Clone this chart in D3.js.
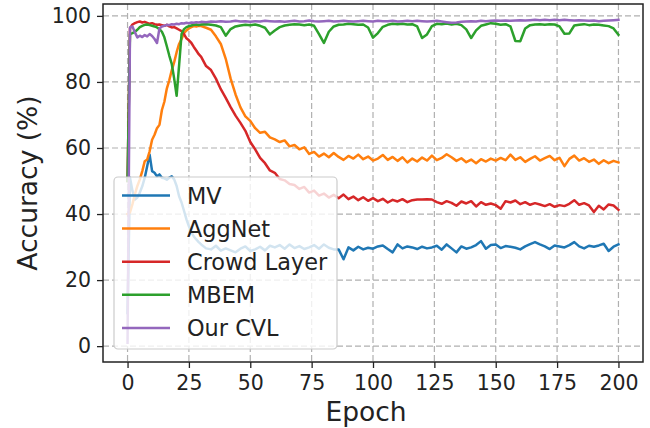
<!DOCTYPE html>
<html>
<head>
<meta charset="utf-8">
<script src="https://cdn.jsdelivr.net/npm/d3@7"></script>
<style>
  body { margin: 0; background: #fff; }
  svg { display: block; font-family: "DejaVu Sans", sans-serif; }
</style>
</head>
<body>
<svg width="650" height="428"></svg>
<script>
// epochs: every epoch up to 30, then every second epoch
const epochs = d3.range(0, 31).concat(d3.range(32, 201, 2))

const seriesNames = ["MV", "AggNet", "Crowd Layer", "MBEM", "Our CVL"]
const seriesColors = ["#1f77b4", "#ff7f0e", "#d62728", "#2ca02c", "#9467bd"]

const xTicks = [0, 25, 50, 75, 100, 125, 150, 175, 200]
const yTicks = [0, 20, 40, 60, 80, 100]

const mv = [
    10, 51, 47, 44.4, 45, 46.5, 48.4, 51, 54.5, 58, 53, 52.5, 51.4, 52, 51, 50.8, 50.4, 51, 51.4, 50.5,
    48.5, 45.4, 43.5, 41, 38.4, 36.3, 34.5, 33.2, 32.3, 31.5, 30.8,
    29.6, 29.3, 30.4, 28.9, 29.6, 29.0, 28.4, 29.5, 30.2, 28.8, 29.3, 30.1, 29.0, 30.4, 29.9, 30.6, 29.5, 30.8, 29.7, 30.3,
    29.4, 29.9, 30.6, 29.5, 30.8, 29.8, 29.3, 29.3, 26.3, 29.9, 29.0, 30.1, 29.3, 29.8, 29.5, 30.2, 30.5, 29.4, 28.4, 30.8,
    29.6, 30.2, 29.9, 29.4, 30.1, 29.6, 29.9, 30.4, 29.2, 30.8, 29.6, 28.4, 30.2, 29.5, 29.9, 30.6, 31.8, 29.5, 30.6, 30.8,
    29.7, 30.3, 30.1, 29.8, 29.3, 30.2, 30.9, 31.5, 30.8, 30.2, 29.4, 30.5, 30.2, 29.9, 30.6, 31.5, 30.2, 29.6, 30.4, 30.1,
    30.5, 31.0, 28.8, 30.1, 30.8
]

const aggnet = [
    40, 40.5, 43, 46, 48.5, 50.5, 53, 56, 56.5, 59, 62.5, 64, 66, 67, 71.5, 74, 78, 80.5, 83.5, 86,
    89, 91.5, 93, 94.8, 95.6, 96.2, 96.6, 96.9, 96.8, 97.0, 96.9,
    96.4, 95.8, 93.8, 91.5, 87, 81, 76.2, 72.3, 69.6, 68.2, 66.0, 64.6, 64.9, 63.2, 62.6, 61.8, 62.3, 60.5, 60.9, 59.6,
    60.2, 58.2, 58.8, 57.4, 58.3, 57.2, 58.5, 57.3, 56.4, 57.6, 56.8, 58.0, 56.6, 57.4, 56.2, 56.8, 57.9, 56.4, 57.3, 56.1,
    57.2, 55.6, 56.8, 55.9, 57.1, 56.2, 57.7, 56.3, 57.0, 58.1, 57.2, 56.1, 56.9, 55.7, 56.5, 55.4, 56.6, 55.9, 56.8, 56.2,
    57.0, 56.3, 58.0, 56.4, 57.2, 55.8, 56.7, 57.5, 56.2, 56.9, 57.6, 56.3, 57.0, 54.5, 56.7, 57.7, 56.2, 56.9, 55.8, 56.5,
    55.2, 56.3, 55.4, 56.1, 55.6
]

const crowdLayer = [
    50, 96.2, 97.4, 97.8, 98.1, 98.3, 98.0, 98.2, 97.9, 97.6, 97.8, 97.5, 97.3, 97.4, 97.2, 97.0, 97.3, 96.8, 96.5, 96.6,
    96.2, 95.8, 95.4, 94.5, 93.2, 92.6, 91.8, 90.6, 89.5, 88.4, 87.6,
    84.8, 83.6, 81.0, 77.8, 75.2, 72.4, 69.8, 67.6, 65.2, 61.8, 59.6, 57.0, 55.4, 53.2, 52.5, 50.6, 50.2, 49.1, 48.8, 47.6,
    48.2, 46.5, 47.1, 45.6, 46.2, 45.0, 45.8, 44.8, 45.9, 44.5, 45.3, 44.2, 45.1, 44.0, 44.8, 43.9, 44.6, 43.5, 44.3, 43.8,
    44.5, 43.6, 44.2, 44.4, 44.4, 44.5, 44.4, 43.6, 43.1, 43.9, 43.4, 42.5, 43.8, 43.2, 43.9, 42.3, 43.6, 42.8, 43.2, 42.7,
    41.6, 43.9, 43.5, 44.1, 43.0, 43.6, 42.8, 43.3, 42.9, 42.4, 43.0, 42.2, 42.7, 42.4, 43.1, 44.2, 42.8, 43.3, 42.6, 40.6,
    42.5, 41.4, 42.9, 42.6, 41.3
]

const mbem = [
    50, 94.5, 94.8, 95.2, 95.8, 96.6, 97.0, 97.3, 97.4, 97.2, 97.0, 96.8, 96.5, 96.0, 95.2, 93.5, 90.8, 88.0, 85.5, 81.0,
    75.8, 85.0, 94.5, 96.0, 96.6, 96.9, 97.1, 97.3, 97.4, 97.2, 97.4,
    97.5, 97.3, 97.1, 96.6, 94.0, 96.0, 96.8, 97.1, 97.3, 97.2, 97.4, 97.0, 96.4, 94.4, 95.6, 96.6, 97.1, 97.3, 97.5, 97.4,
    97.2, 97.4, 97.0, 94.5, 91.8, 95.2, 96.8, 97.3, 97.4, 97.6, 97.5, 97.3, 97.4, 96.5, 93.4, 94.8, 96.7, 97.3, 97.6, 97.5,
    97.6, 97.4, 97.5, 96.8, 93.3, 94.4, 96.9, 97.6, 97.5, 97.7, 97.4, 97.6, 97.2, 95.9, 93.3, 95.6, 97.0, 97.4, 97.8, 97.6,
    97.3, 97.5, 96.8, 92.4, 92.3, 96.2, 97.2, 97.4, 97.5, 97.3, 97.5, 97.4, 96.8, 94.6, 94.7, 97.1, 97.3, 97.5, 97.2, 97.4,
    97.3, 97.1, 96.9, 96.2, 94.3
]

const ourCvl = [
    1, 96.5, 96.8, 95, 93.5, 94, 93.6, 94.2, 93.8, 94.5, 93.9, 93, 91.8, 96.2, 96.8, 97, 97.3, 97.2, 97.5, 97.4,
    97.6, 97.5, 97.8, 97.7, 97.9, 97.8, 98, 97.9, 98.1, 98, 98.2,
    98.1, 98.3, 98.2, 98.4, 98.2, 98.3, 98.5, 98.3, 98.4, 98.2, 98.4, 98.3, 98.5, 98.4, 98.3, 98.4, 98.2, 98.4, 98.5, 98.3,
    98.4, 98.6, 98.4, 98.3, 98.4, 98.5, 98.3, 98.4, 98.5, 98.4, 98.3, 98.4, 98.5, 98.4, 98.3, 98.5, 98.4, 98.4, 98.5, 98.3,
    98.4, 98.5, 98.4, 98.5, 98.4, 98.3, 98.4, 98.5, 98.3, 98.1, 97.9, 98.0, 98.2, 98.3, 98.4, 98.3, 98.5, 98.4, 98.5, 98.6,
    98.5, 98.6, 98.5, 98.6, 98.7, 98.6, 98.7, 98.8, 98.7, 98.8, 98.7, 98.8, 98.7, 98.8, 98.7, 98.6, 98.7, 98.6, 98.5, 98.6,
    98.4, 98.5, 98.6, 98.7, 98.8
]

const seriesValues = [mv, aggnet, crowdLayer, mbem, ourCvl]

function draw_chart() {
    const svg = d3.select("svg")

    // axes box (pixels)
    const left = 103, right = 643, top = 4, bottom = 362

    const x = d3.scaleLinear().domain([-10, 210]).range([left, right])
    const y = d3.scaleLinear().domain([-4.8, 103.6]).range([bottom, top])

    // Grid
    const grid = svg.append("g")
    grid.selectAll(".gx")
        .data(xTicks)
        .enter()
        .append("line")
        .attr("x1", d => x(d)).attr("x2", d => x(d))
        .attr("y1", top).attr("y2", bottom)
    grid.selectAll(".gy")
        .data(yTicks)
        .enter()
        .append("line")
        .attr("x1", left).attr("x2", right)
        .attr("y1", d => y(d)).attr("y2", d => y(d))
    grid.selectAll("line")
        .attr("stroke", "#b0b0b0")
        .attr("stroke-width", 1.2)
        .attr("stroke-dasharray", "6,3")

    // Lines
    const line = d3.line()
        .x((d, i) => x(epochs[i]))
        .y(d => y(d))

    svg.append("g")
        .selectAll("path")
        .data(seriesValues)
        .enter()
        .append("path")
        .attr("d", d => line(d))
        .attr("fill", "none")
        .attr("stroke", (d, i) => seriesColors[i])
        .attr("stroke-width", 2.5)
        .attr("stroke-linejoin", "round")
        .attr("stroke-linecap", "square")

    // Axes
    const xAxis = svg.append("g")
        .attr("transform", `translate(0,${bottom})`)
        .call(d3.axisBottom(x).tickValues(xTicks).tickSize(6).tickPadding(7).tickSizeOuter(0))
    const yAxis = svg.append("g")
        .attr("transform", `translate(${left},0)`)
        .call(d3.axisLeft(y).tickValues(yTicks).tickSize(6).tickPadding(6).tickSizeOuter(0))

    for (const ax of [xAxis, yAxis]) {
        ax.select(".domain").remove()
        ax.selectAll(".tick line").attr("stroke", "#222").attr("stroke-width", 1.3)
        ax.selectAll(".tick text")
            .attr("fill", "#222")
            .style("font-family", "DejaVu Sans")
            .style("font-size", "20.5px")
    }

    // Spines
    svg.append("rect")
        .attr("x", left).attr("y", top)
        .attr("width", right - left).attr("height", bottom - top)
        .attr("fill", "none")
        .attr("stroke", "#222")
        .attr("stroke-width", 1.5)

    // Axis labels
    svg.append("text")
        .attr("x", 366).attr("y", 421)
        .attr("text-anchor", "middle")
        .attr("fill", "#222")
        .style("font-size", "26.5px")
        .text("Epoch")

    svg.append("text")
        .attr("transform", "translate(37,183) rotate(-90)")
        .attr("text-anchor", "middle")
        .attr("fill", "#222")
        .style("font-size", "26.5px")
        .text("Accuracy (%)")

    // Legend
    const legend = svg.append("g")
    legend.append("rect")
        .attr("x", 114).attr("y", 177)
        .attr("width", 223).attr("height", 172)
        .attr("rx", 4)
        .attr("fill", "white")
        .attr("fill-opacity", 0.8)
        .attr("stroke", "#cccccc")
        .attr("stroke-width", 1.2)

    const rows = legend.selectAll(".row")
        .data(seriesNames)
        .enter()
        .append("g")
        .attr("transform", (d, i) => `translate(0,${195.5 + i * 33.1})`)
    rows.append("line")
        .attr("x1", 122).attr("x2", 170)
        .attr("stroke", (d, i) => seriesColors[i])
        .attr("stroke-width", 2.5)
    rows.append("text")
        .attr("x", 187)
        .attr("y", 8)
        .attr("fill", "#222")
        .style("font-size", "22.4px")
        .text(d => d)
}

window.onload = function() {
    draw_chart()
}
</script>
</body>
</html>
